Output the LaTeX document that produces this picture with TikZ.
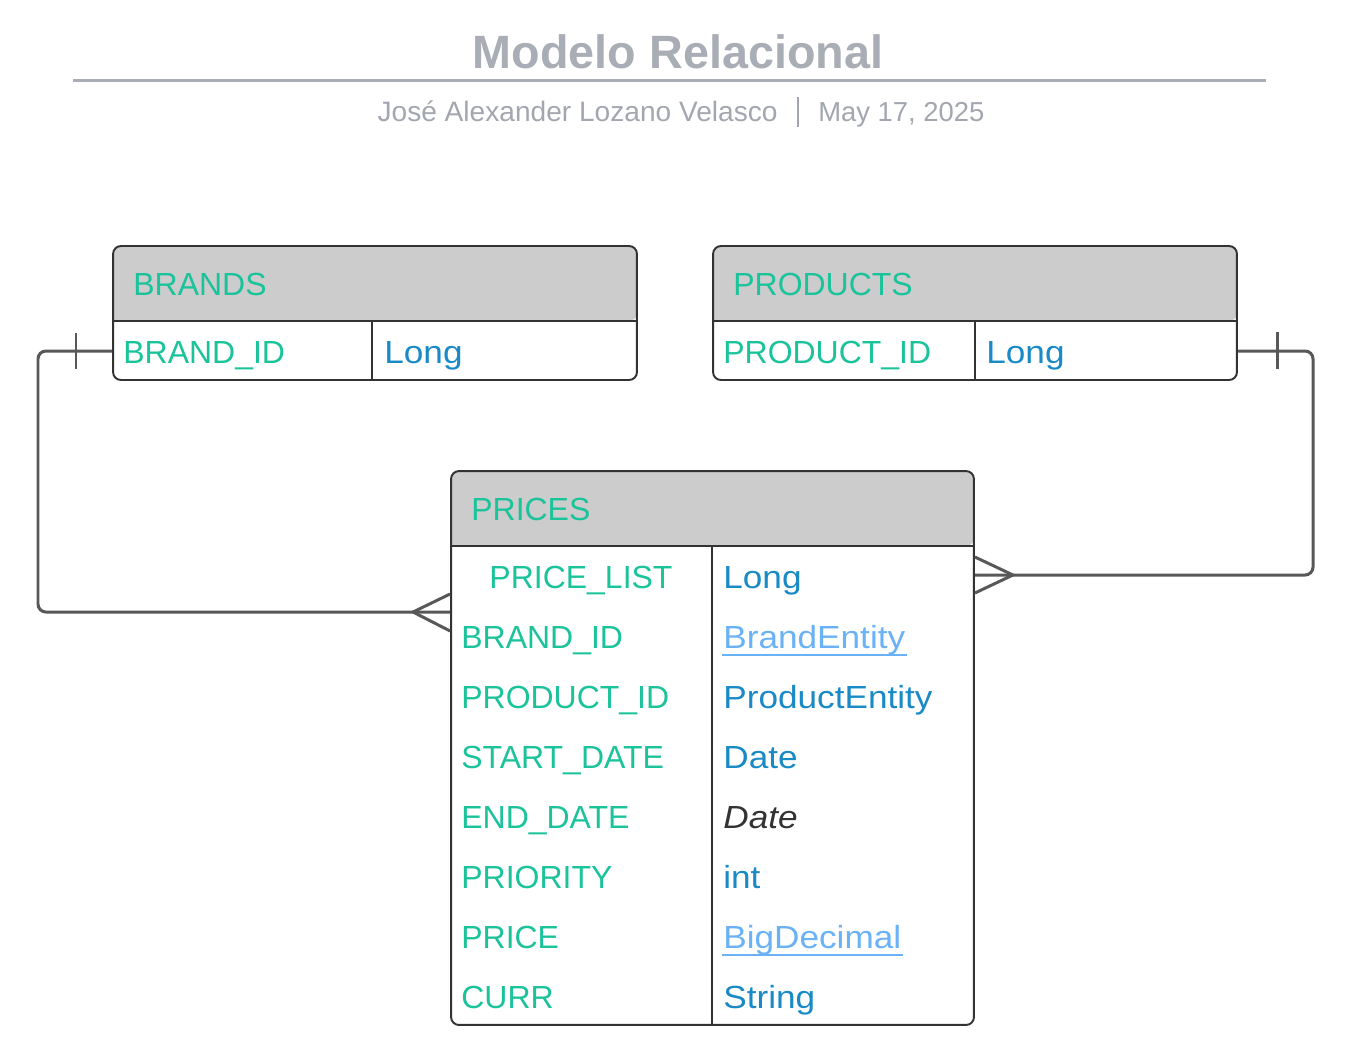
\documentclass[tikz,border=0pt]{standalone}
\usepackage{fontspec}
\setmainfont{Liberation Sans}
\newfontfamily\widesans[FakeStretch=1.1]{Liberation Sans}
\usetikzlibrary{positioning}
\definecolor{titlegray}{HTML}{A9ADB5}
\definecolor{subgray}{HTML}{A2A6AE}
\definecolor{hdrgray}{HTML}{CCCCCC}
\definecolor{boxline}{HTML}{333333}
\definecolor{connline}{HTML}{585858}
\definecolor{colname}{HTML}{1BC39B}
\definecolor{coltype}{HTML}{1A8AC6}
\definecolor{linkblue}{HTML}{6AB2F5}
\newcommand\tblfont{\fontsize{18.2}{22}\selectfont}
\tikzset{
  tbl/.style={draw=boxline, line width=1.1pt, rounded corners=4.5pt, inner sep=0pt},
  hdr/.style={fill=hdrgray},
  fld/.style={anchor=base west, inner sep=0pt, text=colname, font=\tblfont},
  typ/.style={anchor=base west, inner sep=0pt, text=coltype, font=\widesans\tblfont},
  lnk/.style={anchor=base west, inner sep=0pt, text=linkblue, font=\widesans\tblfont},
  itl/.style={anchor=base west, inner sep=0pt, text=boxline, font=\widesans\tblfont\itshape},
  conn/.style={draw=connline, line width=1.7pt},
}
\begin{document}
\begin{tikzpicture}[x=0.02cm,y=-0.02cm]
\useasboundingbox (0,0) rectangle (1356,1063);
% title
\node[anchor=base, inner sep=0pt, text=titlegray, font=\bfseries\fontsize{26.6}{32}\selectfont] (title) at (678,68) {Modelo Relacional};
\draw[titlegray, line width=1.7pt] (73,80) -- (1266,80);
\node[anchor=base east, inner sep=0pt, text=subgray, font=\fontsize{16}{19}\selectfont] (author) at (778,121) {José Alexander Lozano Velasco};
\node[anchor=base west, inner sep=0pt, text=subgray, font=\fontsize{15.6}{19}\selectfont] (date) at (818,121) {May 17, 2025};
\draw[subgray, line width=0.8pt] (798,97) -- (798,127);

% BRANDS
\fill[hdr] (113,321) [rounded corners=4.5pt] |- (375,246) -| (637,321) [sharp corners] -- cycle;
\node[tbl, minimum width=10.48cm, minimum height=2.68cm] (brands) at (375,313) {};
\draw[boxline, line width=1.1pt] (brands.west |- 0,321) -- (brands.east |- 0,321);
\draw[boxline, line width=0.8pt] (372,321) -- (372,380);
\node[fld] (brandsh) at (133,295) {BRANDS};
\node[fld] (brandid) at (123,363) {BRAND\_ID};
\node[typ] (brandtyp) at (384,363) {Long};

% PRODUCTS
\fill[hdr] (713,321) [rounded corners=4.5pt] |- (975,246) -| (1237,321) [sharp corners] -- cycle;
\node[tbl, minimum width=10.48cm, minimum height=2.68cm] (products) at (975,313) {};
\draw[boxline, line width=1.1pt] (products.west |- 0,321) -- (products.east |- 0,321);
\draw[boxline, line width=0.8pt] (975,321) -- (975,380);
\node[fld] (productsh) at (733,295) {PRODUCTS};
\node[fld] (productid) at (723,363) {PRODUCT\_ID};
\node[typ] (producttyp) at (986,363) {Long};

% PRICES
\fill[hdr] (451,546) [rounded corners=4.5pt] |- (712,471) -| (974,546) [sharp corners] -- cycle;
\node[tbl, minimum width=10.46cm, minimum height=11.08cm] (prices) at (712.5,748) {};
\draw[boxline, line width=1.1pt] (prices.west |- 0,546) -- (prices.east |- 0,546);
\draw[boxline, line width=0.8pt] (712,546) -- (712,1025);
\node[fld] (pricesh) at (471,520) {PRICES};
\node[fld, anchor=base] (pf1) at (581,588) {PRICE\_LIST};
\foreach \y/\n [count=\i from 2] in {648/BRAND\_ID, 708/PRODUCT\_ID, 768/START\_DATE, 828/END\_DATE, 888/PRIORITY, 948/PRICE, 1008/CURR}
  \node[fld] (pf\i) at (461,\y) {\n};
\foreach \y/\t/\s [count=\i] in {588/Long/typ, 648/BrandEntity/lnk, 708/ProductEntity/typ, 768/Date/typ, 828/Date/itl, 888/int/typ, 948/BigDecimal/lnk, 1008/String/typ}
  \node[\s] (pt\i) at (723,\y) {\t};
\foreach \i in {2,7}
  \draw[linkblue, line width=0.8pt] ([yshift=-4pt,xshift=-0.5pt]pt\i.base west) -- ([yshift=-4pt,xshift=1pt]pt\i.base east);

% relations
\draw[conn, rounded corners=4.5pt] (brands.west |- 0,351) -| (38,612) -- (prices.west |- 0,612);
\draw[conn] (76,333) -- (76,369);
\draw[conn] (prices.west |- 0,594) -- (413,612) -- (prices.west |- 0,631);
\draw[conn, rounded corners=4.5pt] (products.east |- 0,351) -| (1313,575) -- (prices.east |- 0,575);
\draw[conn] (1277,332) -- (1277,369);
\draw[conn] (prices.east |- 0,557) -- (1013,575) -- (prices.east |- 0,593);
\end{tikzpicture}
\end{document}
